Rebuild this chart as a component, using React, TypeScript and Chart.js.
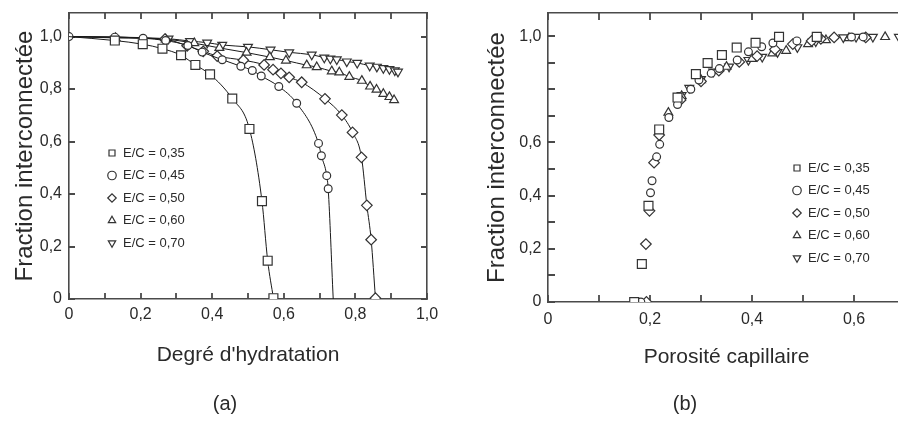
import React, { useEffect, useRef } from 'react';
import { Chart, registerables } from 'chart.js';

Chart.register(...registerables);

// ---------- shared series info ----------
const SERIES_LABELS = ['E/C = 0,35', 'E/C = 0,45', 'E/C = 0,50', 'E/C = 0,60', 'E/C = 0,70'];
const POINT_STYLES = ['rect', 'circle', 'rectRot', 'triangle', 'triangle'];
const POINT_ROTATIONS = [0, 0, 0, 0, 180];

// ---------- panel (a): degré d'hydratation -> fraction interconnectée ----------
const HYD_035: [number, number][] = [
  [0, 1.0], [0.128, 0.985], [0.206, 0.971], [0.261, 0.954], [0.313, 0.929], [0.353, 0.892],
  [0.394, 0.856], [0.456, 0.764], [0.504, 0.648], [0.539, 0.373], [0.555, 0.146], [0.571, 0.003],
];
const HYD_045: [number, number][] = [
  [0, 1.0], [0.128, 0.998], [0.207, 0.994], [0.27, 0.985], [0.332, 0.966], [0.372, 0.941],
  [0.428, 0.912], [0.48, 0.887], [0.512, 0.871], [0.537, 0.85], [0.586, 0.81], [0.636, 0.746],
  [0.697, 0.593], [0.705, 0.546], [0.72, 0.47], [0.724, 0.42], [0.738, 0],
];
const HYD_050: [number, number][] = [
  [0, 1.0], [0.268, 0.99], [0.33, 0.965], [0.375, 0.944], [0.414, 0.926], [0.487, 0.91],
  [0.545, 0.892], [0.57, 0.874], [0.592, 0.86], [0.615, 0.845], [0.65, 0.826], [0.715, 0.763],
  [0.762, 0.701], [0.792, 0.635], [0.817, 0.54], [0.832, 0.357], [0.844, 0.226], [0.856, 0.003],
];
const HYD_060: [number, number][] = [
  [0, 1.0], [0.13, 0.995], [0.27, 0.99], [0.35, 0.975], [0.42, 0.957], [0.496, 0.939],
  [0.561, 0.922], [0.606, 0.909], [0.664, 0.891], [0.692, 0.884], [0.734, 0.868], [0.755, 0.864],
  [0.783, 0.847], [0.818, 0.832], [0.841, 0.81], [0.859, 0.798], [0.878, 0.782], [0.895, 0.77],
  [0.908, 0.758],
];
const HYD_070: [number, number][] = [
  [0, 1.0], [0.278, 0.992], [0.338, 0.983], [0.386, 0.977], [0.428, 0.968], [0.5, 0.961],
  [0.563, 0.95], [0.615, 0.94], [0.678, 0.931], [0.713, 0.92], [0.73, 0.916], [0.748, 0.913],
  [0.776, 0.905], [0.805, 0.9], [0.84, 0.889], [0.86, 0.885], [0.878, 0.88], [0.895, 0.876],
  [0.91, 0.871], [0.919, 0.866],
];
// indices of points drawn without a marker (line passes through them only)
const HYD_NO_MARKER: number[][] = [[0], [16], [0], [0], [0]];

const A_X_TICKS = [0, 0.1, 0.2, 0.3, 0.4, 0.5, 0.6, 0.7, 0.8, 0.9, 1.0];
const A_X_LABELS = ['0', '', '0,2', '', '0,4', '', '0,6', '', '0,8', '', '1,0'];
const A_Y_TICKS = [0, 0.2, 0.4, 0.6, 0.8, 1.0];
const A_Y_LABELS = ['0', '0,2', '0,4', '0,6', '0,8', '1,0'];

// ---------- panel (b): porosité capillaire -> fraction interconnectée ----------
const POR_035: [number, number][] = [
  [0.169, 0], [0.184, 0.143], [0.197, 0.362], [0.218, 0.649], [0.254, 0.769], [0.29, 0.857],
  [0.313, 0.899], [0.341, 0.929], [0.37, 0.957], [0.407, 0.975], [0.453, 0.997], [0.527, 0.997],
];
const POR_045: [number, number][] = [
  [0.182, 0], [0.201, 0.411], [0.204, 0.456], [0.213, 0.546], [0.219, 0.593], [0.237, 0.694],
  [0.254, 0.743], [0.28, 0.8], [0.296, 0.835], [0.32, 0.86], [0.336, 0.878], [0.371, 0.91],
  [0.393, 0.941], [0.419, 0.96], [0.441, 0.974], [0.488, 0.982], [0.53, 0.997], [0.595, 0.997],
  [0.618, 0.997],
];
const POR_050: [number, number][] = [
  [0.193, 0], [0.192, 0.218], [0.199, 0.343], [0.208, 0.524], [0.218, 0.628], [0.26, 0.76],
  [0.3, 0.83], [0.335, 0.87], [0.375, 0.903], [0.41, 0.925], [0.445, 0.95], [0.48, 0.97],
  [0.517, 0.982], [0.535, 0.99], [0.561, 0.995], [0.623, 0.995],
];
const POR_060: [number, number][] = [
  [0.236, 0.712], [0.262, 0.775], [0.3, 0.835], [0.35, 0.885], [0.4, 0.915], [0.44, 0.935],
  [0.467, 0.945], [0.51, 0.97], [0.545, 0.985], [0.59, 0.993], [0.661, 0.997],
];
const POR_070: [number, number][] = [
  [0.262, 0.778], [0.277, 0.805], [0.3, 0.838], [0.324, 0.866], [0.355, 0.885], [0.393, 0.91],
  [0.42, 0.922], [0.45, 0.94], [0.489, 0.958], [0.525, 0.98], [0.579, 0.995], [0.604, 0.997],
  [0.637, 0.997], [0.688, 0.997],
];
const POR_NO_MARKER: number[][] = [[], [], [], [], []];

const B_X_TICKS = [0, 0.1, 0.2, 0.3, 0.4, 0.5, 0.6, 0.7];
const B_X_LABELS = ['0', '', '0,2', '', '0,4', '', '0,6', ''];
const B_Y_TICKS = [0, 0.1, 0.2, 0.3, 0.4, 0.5, 0.6, 0.7, 0.8, 0.9, 1.0];
const B_Y_LABELS = ['0', '', '0,2', '', '0,4', '', '0,6', '', '', '', '1,0'];

// ---------- styling ----------
const FONT = "'Liberation Sans', Arial, Helvetica, sans-serif";
const AXIS_COLOR = '#4a4a4a';
const TEXT_COLOR = '#2a2a2a';
const MARK_COLOR = '#333333';
const MARK_RADII = [6.3, 3.9, 5.3, 5.1, 5.1];

type PanelCfg = {
  width: number;
  height: number;
  series: [number, number][][];
  noMarker: number[][];
  lines: boolean;
  xMax: number;
  yMax: number;
  xTicks: number[];
  xLabels: string[];
  yTicks: number[];
  yLabels: string[];
  x2Ticks: number[];
  y2Ticks: number[];
  xTitle: string;
  yTitle: string;
  caption: string;
  yW: number;
  y2W: number;
  x2H: number;
  xH: number;
  xPad: number;
  yPad: number;
  xTitlePad: number;
  yTitlePad: number;
  legendDx: number;
  legendDy: number;
  tickLen: number;
};

function buildConfig(p: PanelCfg): any {
  const setTicks = (vals: number[]) => (s: any) => {
    s.ticks = vals.map((v) => ({ value: v }));
  };
  const noPad = (s: any) => {
    s.paddingTop = 0;
    s.paddingBottom = 0;
    s.paddingLeft = 0;
    s.paddingRight = 0;
  };
  const fixW = (w: number) => (s: any) => {
    s.width = w;
    noPad(s);
  };
  const fixH = (h: number) => (s: any) => {
    s.height = h;
    noPad(s);
  };
  const grid = { display: false, drawOnChartArea: false, drawTicks: false };
  const border = { display: true, color: AXIS_COLOR, width: 1.6 };
  const tickFont = { family: FONT, size: 16 };

  const datasets = p.series.map((pts, i) => ({
    label: SERIES_LABELS[i],
    data: pts.map(([x, y]) => ({ x, y })),
    showLine: p.lines,
    borderColor: '#1a1a1a',
    borderWidth: 1,
    cubicInterpolationMode: 'monotone',
    pointStyle: POINT_STYLES[i],
    pointRotation: POINT_ROTATIONS[i],
    pointRadius: pts.map((_, j) => (p.noMarker[i].includes(j) ? 0 : MARK_RADII[i])),
    pointBackgroundColor: '#ffffff',
    pointBorderColor: MARK_COLOR,
    pointBorderWidth: 1.2,
    fill: false,
  }));

  // place the built-in legend inside the plot area
  const legendPlacer = {
    id: 'legendPlacer',
    afterLayout(chart: any) {
      const lg = chart.legend;
      const a = chart.chartArea;
      if (!lg || !a) return;
      lg.left = a.left + p.legendDx;
      lg.top = a.top + p.legendDy;
      lg.right = a.right;
      lg.bottom = a.bottom;
      lg.width = lg.right - lg.left;
      lg.height = lg.bottom - lg.top;
    },
  };

  // inward tick marks on all four axes, at each scale's own ticks
  const innerTicks = {
    id: 'innerTicks',
    beforeDatasetsDraw(chart: any) {
      const ctx = chart.ctx;
      const a = chart.chartArea;
      const L = p.tickLen;
      ctx.save();
      ctx.strokeStyle = AXIS_COLOR;
      ctx.lineWidth = 1.8;
      ctx.beginPath();
      Object.values(chart.scales).forEach((s: any) => {
        const pos = s.options.position;
        (s.ticks || []).forEach((t: any) => {
          const px = Math.round(s.getPixelForValue(t.value));
          if (pos === 'bottom') {
            ctx.moveTo(px, a.bottom);
            ctx.lineTo(px, a.bottom - L);
          } else if (pos === 'top') {
            ctx.moveTo(px, a.top);
            ctx.lineTo(px, a.top + L);
          } else if (pos === 'left') {
            ctx.moveTo(a.left, px);
            ctx.lineTo(a.left + L, px);
          } else if (pos === 'right') {
            ctx.moveTo(a.right, px);
            ctx.lineTo(a.right - L, px);
          }
        });
      });
      ctx.stroke();
      ctx.restore();
    },
  };

  return {
    type: 'scatter',
    data: { datasets },
    plugins: [legendPlacer, innerTicks],
    options: {
      animation: false,
      responsive: false,
      devicePixelRatio: 1,
      events: [],
      layout: { padding: 0 },
      scales: {
        x: {
          type: 'linear',
          position: 'bottom',
          min: 0,
          max: p.xMax,
          afterBuildTicks: setTicks(p.xTicks),
          afterFit: fixH(p.xH),
          ticks: {
            autoSkip: false,
            maxRotation: 0,
            padding: p.xPad,
            font: tickFont,
            color: TEXT_COLOR,
            callback: (_v: any, i: number) => p.xLabels[i],
          },
          grid,
          border,
          title: {
            display: true,
            text: p.xTitle,
            font: { family: FONT, size: 21 },
            color: TEXT_COLOR,
            padding: { top: 0, bottom: p.xTitlePad },
          },
        },
        x2: {
          type: 'linear',
          axis: 'x',
          position: 'top',
          min: 0,
          max: p.xMax,
          afterBuildTicks: setTicks(p.x2Ticks),
          afterFit: fixH(p.x2H),
          ticks: { display: false, autoSkip: false },
          grid,
          border,
        },
        y: {
          type: 'linear',
          position: 'left',
          min: 0,
          max: p.yMax,
          afterBuildTicks: setTicks(p.yTicks),
          afterFit: fixW(p.yW),
          ticks: {
            autoSkip: false,
            padding: p.yPad,
            font: tickFont,
            color: TEXT_COLOR,
            callback: (_v: any, i: number) => p.yLabels[i],
          },
          grid,
          border,
          title: {
            display: true,
            text: p.yTitle,
            font: { family: FONT, size: 24 },
            color: TEXT_COLOR,
            padding: { top: p.yTitlePad, bottom: 0 },
          },
        },
        y2: {
          type: 'linear',
          axis: 'y',
          position: 'right',
          min: 0,
          max: p.yMax,
          afterBuildTicks: setTicks(p.y2Ticks),
          afterFit: fixW(p.y2W),
          ticks: { display: false, autoSkip: false },
          grid,
          border,
        },
      },
      plugins: {
        tooltip: { enabled: false },
        legend: {
          display: true,
          position: 'chartArea',
          align: 'start',
          labels: {
            usePointStyle: true,
            boxWidth: 9,
            boxHeight: 6,
            padding: 9.5,
            font: { family: FONT, size: 13 },
            color: TEXT_COLOR,
          },
        },
        title: {
          display: true,
          text: p.caption,
          position: 'bottom',
          font: { family: FONT, size: 20, weight: 'normal' },
          color: TEXT_COLOR,
          padding: { top: 10, bottom: 5 },
        },
      },
    },
  };
}

const PANEL_A: PanelCfg = {
  width: 450,
  height: 421,
  series: [HYD_035, HYD_045, HYD_050, HYD_060, HYD_070],
  noMarker: HYD_NO_MARKER,
  lines: true,
  xMax: 1.0,
  yMax: 1.09,
  xTicks: A_X_TICKS,
  xLabels: A_X_LABELS,
  yTicks: A_Y_TICKS,
  yLabels: A_Y_LABELS,
  x2Ticks: A_X_TICKS,
  y2Ticks: A_Y_TICKS,
  xTitle: "Degré d'hydratation",
  yTitle: 'Fraction interconnectée',
  caption: '(a)',
  yW: 69,
  y2W: 23,
  x2H: 13,
  xH: 83,
  xPad: 6,
  yPad: 7,
  xTitlePad: 14,
  yTitlePad: 10.5,
  legendDx: 29,
  legendDy: 124,
  tickLen: 6,
};

const PANEL_B: PanelCfg = {
  width: 470,
  height: 421,
  series: [POR_035, POR_045, POR_050, POR_060, POR_070],
  noMarker: POR_NO_MARKER,
  lines: false,
  xMax: 0.7,
  yMax: 1.087,
  xTicks: B_X_TICKS,
  xLabels: B_X_LABELS,
  yTicks: B_Y_TICKS,
  yLabels: B_Y_LABELS,
  x2Ticks: B_X_TICKS,
  y2Ticks: B_Y_TICKS,
  xTitle: 'Porosité capillaire',
  yTitle: 'Fraction interconnectée',
  caption: '(b)',
  yW: 98,
  y2W: 15,
  x2H: 13,
  xH: 80,
  xPad: 8,
  yPad: 6.5,
  xTitlePad: 12,
  yTitlePad: 32.5,
  legendDx: 235,
  legendDy: 139,
  tickLen: 7,
};

function Panel({ cfg, left }: { cfg: PanelCfg; left: number }) {
  const ref = useRef<HTMLCanvasElement | null>(null);
  useEffect(() => {
    if (!ref.current) return;
    const chart = new Chart(ref.current, buildConfig(cfg));
    return () => chart.destroy();
  }, [cfg]);
  return (
    <canvas
      ref={ref}
      width={cfg.width}
      height={cfg.height}
      style={{
        position: 'absolute',
        left,
        top: 0,
        width: cfg.width,
        height: cfg.height,
        display: 'block',
      }}
    />
  );
}

export default function App() {
  return (
    <div
      style={{
        position: 'fixed',
        left: 0,
        top: 0,
        width: 898,
        height: 421,
        overflow: 'hidden',
        background: '#ffffff',
      }}
    >
      <Panel cfg={PANEL_A} left={0} />
      <Panel cfg={PANEL_B} left={450} />
    </div>
  );
}
